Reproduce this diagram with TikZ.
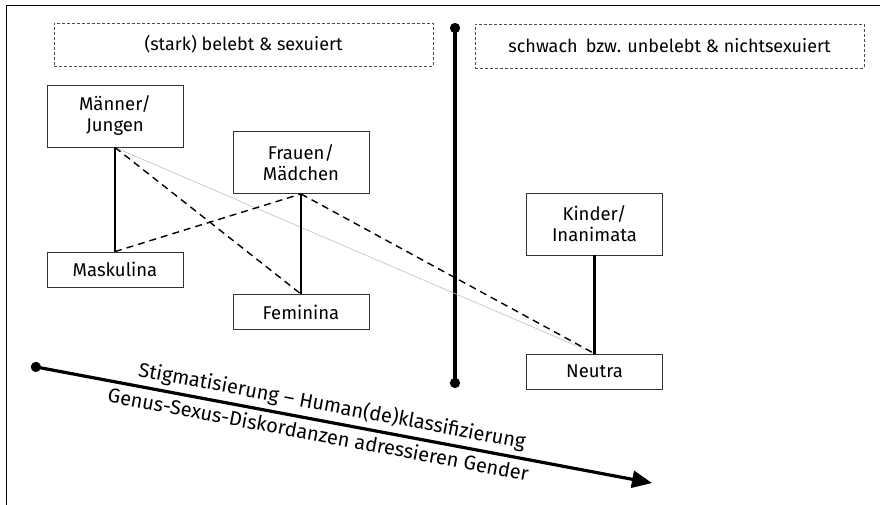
\documentclass[tikz,border=0pt]{standalone}
\usepackage{fontspec}
\setmainfont{Fira Sans}
\usetikzlibrary{arrows.meta}

\begin{document}
\begin{tikzpicture}[x = 1pt, y = -1pt, font = \fontsize{18.5}{21}\selectfont,
	box/.style = {rectangle, draw = black!80, line width = 0.9pt, minimum width = 136pt, minimum height = 35pt, align = center, inner sep = 0pt},
	tallbox/.style = {box, minimum height = 62pt},
	headbox/.style = {rectangle, draw = black!70, densely dashed, line width = 0.5pt, inner sep = 0pt, font = \fontsize{18}{21}\selectfont},
	tie/.style = {line width = 2.2pt},
	cross/.style = {line width = 1.4pt, dash pattern = on 7pt off 5pt},
	faint/.style = {line width = 0.6pt, black!25},
	scalelabel/.style = {sloped, inner sep = 4pt, font = \fontsize{20}{24}\selectfont}]

	\useasboundingbox (0, 0) rectangle (880, 505);
	\draw [line width = 1pt] (880, 6) -- (6, 6) -- (6, 505);

	% headings
	\node [headbox, minimum width = 379pt, minimum height = 43pt] (belebt) at (243.5, 44.5) {(stark) belebt \& sexuiert};
	\node [headbox, minimum width = 389pt, minimum height = 44pt] (unbelebt) at (669.5, 46) {schwach\hspace{0.45em}bzw. unbelebt \& nichtsexuiert};

	% divider
	\coordinate (divtop) at (455, 23);
	\coordinate (divbot) at (455, 388);
	\draw [line width = 3.4pt, {Circle[length = 10pt]}-{Circle[length = 10pt]}] (divtop) -- (divbot);

	% referents and genera
	\node [tallbox] (maenner) at (115, 116) {Männer/\\Jungen};
	\node [tallbox] (frauen) at (301, 162.5) {Frauen/\\Mädchen};
	\node [tallbox] (kinder) at (594.5, 224) {Kinder/\\Inanimata};
	\node [box] (mask) at (115, 269.5) {Maskulina};
	\node [box] (femin) at (301, 312) {Feminina};
	\node [box] (neutra) at (594.5, 371.5) {Neutra};

	\draw [faint] (maenner.south) -- (neutra.north);
	\draw [tie] (maenner.south) -- (mask.north);
	\draw [tie] (frauen.south) -- (femin.north);
	\draw [tie] (kinder.south) -- (neutra.north);
	\draw [cross] (maenner.south) -- (femin.north);
	\draw [cross] (mask.north) -- (frauen.south);
	\draw [cross] (frauen.south) -- (neutra.north);

	% scale arrow
	\coordinate (scalefrom) at (31, 366);
	\coordinate (scaleto) at (652, 483);
	\draw [line width = 3.2pt, {Circle[length = 10pt]}-{Triangle[length = 20pt, width = 17pt]}] (scalefrom) -- (scaleto)
		node [scalelabel, above, pos = 0.48] {Stigmatisierung -- Human(de)klassifizierung}
		node [scalelabel, below, pos = 0.467] {Genus-Sexus-Diskordanzen adressieren Gender};

\end{tikzpicture}
\end{document}
